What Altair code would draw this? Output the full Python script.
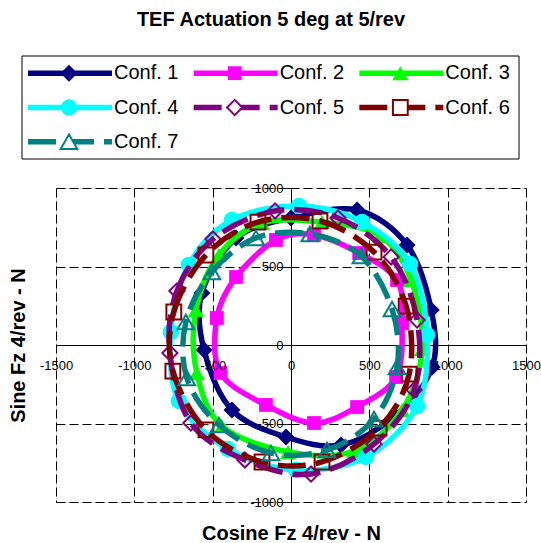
import altair as alt
import pandas as pd

# ---- text ----
TITLE = "TEF Actuation 5 deg at 5/rev"
X_TITLE = "Cosine Fz 4/rev - N"
Y_TITLE = "Sine Fz 4/rev - N"

# ---- series definitions ----
configs = ["Conf. 1", "Conf. 2", "Conf. 3", "Conf. 4", "Conf. 5", "Conf. 6", "Conf. 7"]
colors = ["#000080", "#FF00FF", "#00FF00", "#00FFFF", "#800080", "#800000", "#008080"]
shapes = ["diamond", "square", "triangle-up", "circle", "diamond", "square", "triangle-up"]
filled = [True, True, True, True, False, False, False]
dashed = [False, False, False, False, True, True, True]
marker_sizes = [290, 190, 260, 270, 230, 220, 280]

x_ticks = [-1500, -1000, -500, 0, 500, 1000, 1500]
y_ticks = [-1000, -500, 0, 500, 1000]

# 4/rev Fz response (cosine / sine components, N), 12 actuation phases per configuration
cos_1 = [-555, -569, -351, 0, 422, 741, 895, 901, 665, 319, -32, -377]
sin_1 = [-32, 331, 681, 809, 860, 637, 223, -140, -452, -637, -586, -414]

cos_2 = [-473, -351, -96, 147, 435, 677, 709, 671, 422, 147, -160, -450]
sin_2 = [172, 433, 669, 701, 586, 414, 140, -204, -395, -497, -382, -178]

cos_3 = [-601, -607, -460, -185, 198, 569, 767, 837, 709, 403, -19, -441]
sin_3 = [-178, 223, 573, 777, 783, 694, 414, -25, -414, -675, -682, -516]

cos_4 = [-767, -652, -377, 51, 454, 760, 869, 805, 479, 32, -403, -716]
sin_4 = [83, 510, 796, 885, 783, 516, 64, -389, -713, -796, -662, -357]

cos_5 = [-773, -728, -498, -102, 300, 639, 805, 786, 530, 128, -294, -639]
sin_5 = [-51, 344, 675, 854, 809, 561, 159, -287, -631, -822, -732, -497]

cos_6 = [-754, -748, -543, -211, 185, 530, 735, 754, 562, 198, -185, -543]
sin_6 = [-166, 210, 573, 783, 790, 592, 248, -185, -529, -745, -745, -541]

cos_7 = [-671, -505, -224, 121, 447, 645, 677, 530, 230, -128, -460, -665]
sin_7 = [146, 465, 682, 707, 567, 229, -140, -471, -669, -688, -510, -210]

cos_vals = [cos_1, cos_2, cos_3, cos_4, cos_5, cos_6, cos_7]
sin_vals = [sin_1, sin_2, sin_3, sin_4, sin_5, sin_6, sin_7]

# ---- layout ----
FONT = "Liberation Sans"
W, H = 470, 314
PAD = {"left": 56, "top": 188, "right": 15, "bottom": 41}

minus_fix = "datum.value < 0 ? '-' + abs(datum.value) : '' + datum.value"

x_scale = alt.Scale(domain=[-1500, 1500], nice=False, zero=False)
y_scale = alt.Scale(domain=[-1000, 1000], nice=False, zero=False)

# background axes: dashed grid, axis lines through the origin and tick marks (behind the series)
back_axis = dict(
    grid=True, gridDash=[9, 4], gridColor="black", gridOpacity=1, gridWidth=1,
    domainColor="black", domainWidth=1, tickColor="black", tickSize=5, tickWidth=1,
    labels=False, title=None, zindex=0,
)
x_axis_back = alt.Axis(values=x_ticks, offset=-H / 2, orient="bottom", **back_axis)
y_axis_back = alt.Axis(values=y_ticks, offset=-W / 2, orient="left", **back_axis)

# foreground axes: tick labels and titles drawn over the series
front_axis = dict(
    grid=False, domain=False, ticks=False, tickSize=5,
    labelFont=FONT, labelFontSize=13, labelColor="black", labelFlush=False,
    labelOverlap=False, labelBound=False, labelExpr=minus_fix,
    titleFont=FONT, titleFontSize=20, titleFontWeight="bold", titleColor="black",
    titleBaseline="alphabetic", titleAlign="center", zindex=1,
)
x_axis_front = alt.Axis(values=x_ticks, offset=-H / 2, orient="bottom", labelPadding=14,
                        title=X_TITLE, titleX=W / 2, titleY=194, **front_axis)
y_axis_front = alt.Axis(values=y_ticks, offset=-W / 2, orient="left", labelPadding=8,
                        title=Y_TITLE, titleX=-(W / 2) - 32, titleY=H / 2, titleAngle=270,
                        **front_axis)

dash_pattern = [28, 10]
LINE_W = 5.5

series_layers = []
n = len(configs)
for i, name in enumerate(configs):
    df = pd.DataFrame({"phase": list(range(12)), "cos": cos_vals[i], "sin": sin_vals[i], "conf": name})
    first, last = i == 0, i == n - 1
    line_enc = dict(
        x=alt.X("cos:Q", scale=x_scale, axis=x_axis_back if first else None),
        y=alt.Y("sin:Q", scale=y_scale, axis=y_axis_back if first else None),
        order=alt.Order("phase:Q"),
    )
    pt_enc = dict(
        x=alt.X("cos:Q", scale=x_scale, axis=x_axis_front if last else None),
        y=alt.Y("sin:Q", scale=y_scale, axis=y_axis_front if last else None),
    )
    line_kw = dict(color=colors[i], strokeWidth=LINE_W, interpolate="cardinal-closed", tension=0,
                   strokeJoin="round", strokeCap="butt")
    if dashed[i]:
        line_kw["strokeDash"] = dash_pattern
    series_layers.append(alt.Chart(df).mark_line(**line_kw).encode(**line_enc))
    if filled[i]:
        pts = alt.Chart(df).mark_point(shape=shapes[i], filled=True, size=marker_sizes[i],
                                       color=colors[i], opacity=1, strokeWidth=0)
    else:
        pts = alt.Chart(df).mark_point(shape=shapes[i], filled=False, size=marker_sizes[i],
                                       color=colors[i], opacity=1, strokeWidth=2)
    series_layers.append(pts.encode(**pt_enc))

plot = alt.layer(*series_layers).resolve_axis(x="independent", y="independent")

# ---- legend box above the plot (own scales, placed in pixels above the view) ----
lx = alt.Scale(domain=[0, 3], range=[-34, 463], nice=False, zero=False)
ly = alt.Scale(domain=[0, 3], range=[-132, -29], nice=False, zero=False)

frame_df = pd.DataFrame({"c0": [0], "c1": [3], "r0": [0], "r1": [3]})
legend_layers = [
    alt.Chart(frame_df).mark_rect(fill="white", stroke="black", strokeWidth=1).encode(
        x=alt.X("c0:Q", scale=lx, axis=None), x2="c1:Q",
        y=alt.Y("r0:Q", scale=ly, axis=None), y2="r1:Q",
    )
]
for i, name in enumerate(configs):
    entry = pd.DataFrame({"conf": [name], "col": [i % 3], "row": [i // 3 + 0.5]})
    enc = dict(x=alt.X("col:Q", scale=lx, axis=None), y=alt.Y("row:Q", scale=ly, axis=None))
    rule_kw = dict(color=colors[i], strokeWidth=LINE_W, xOffset=6, x2Offset=90, strokeCap="butt")
    if dashed[i]:
        rule_kw["strokeDash"] = dash_pattern
    legend_layers.append(alt.Chart(entry).mark_rule(**rule_kw).encode(x2="col:Q", **enc))
    if filled[i]:
        sym = alt.Chart(entry).mark_point(shape=shapes[i], filled=True, size=marker_sizes[i],
                                          color=colors[i], opacity=1, strokeWidth=0, xOffset=47)
    else:
        sym = alt.Chart(entry).mark_point(shape=shapes[i], filled=True, fill="white",
                                          size=marker_sizes[i], stroke=colors[i],
                                          opacity=1, strokeWidth=2, xOffset=47)
    legend_layers.append(sym.encode(**enc))
    legend_layers.append(
        alt.Chart(entry).mark_text(align="left", baseline="middle", font=FONT, fontSize=20,
                                   color="black", xOffset=92).encode(text="conf:N", **enc)
    )

legend = alt.layer(*legend_layers)

chart = (
    alt.layer(plot, legend)
    .resolve_scale(x="independent", y="independent")
    .properties(
        width=W, height=H, padding=PAD, autosize="none",
        title=alt.Title(TITLE, font=FONT, fontSize=20, fontWeight="bold", color="black",
                        anchor="middle", frame="group", dx=-20, offset=26),
    )
    .configure_view(stroke=None)
    .configure(background="white")
)

chart.save("out.html", embed_options={"renderer": "svg", "actions": False})
